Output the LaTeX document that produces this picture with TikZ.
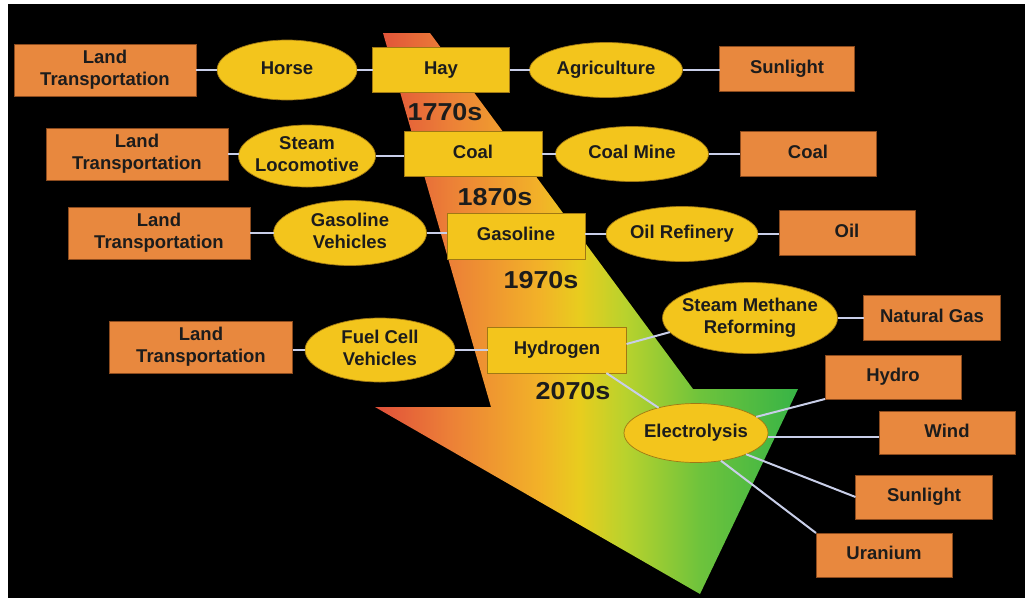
\documentclass[tikz,border=0pt]{standalone}
\usepackage{fontspec}
\setmainfont{Liberation Sans}
\newfontfamily\yearfont[FakeStretch=1.1]{Liberation Sans}
\usetikzlibrary{shapes.geometric}
\definecolor{obox}{RGB}{232,136,62}
\definecolor{oedge}{RGB}{140,75,30}
\definecolor{ybox}{RGB}{243,197,28}
\definecolor{yedge}{RGB}{160,120,20}
\definecolor{conn}{RGB}{200,206,232}
\definecolor{txt}{RGB}{28,28,28}
\definecolor{g1}{RGB}{225,80,58}
\definecolor{g2}{RGB}{236,128,55}
\definecolor{g3}{RGB}{242,178,40}
\definecolor{g4}{RGB}{232,205,30}
\definecolor{g5}{RGB}{185,210,45}
\definecolor{g6}{RGB}{110,195,60}
\definecolor{g7}{RGB}{55,180,70}
\pgfdeclarehorizontalshading{arrowshade}{100bp}{color(0bp)=(g1); color(25bp)=(g1); color(33.9bp)=(g2); color(44.5bp)=(g3); color(49.2bp)=(g4); color(54.5bp)=(g5); color(63.4bp)=(g6); color(75bp)=(g7); color(100bp)=(g7)}
\newcommand{\nt}[1]{\makebox[0pt]{\begin{tabular}{@{}c@{}}#1\end{tabular}}}
\begin{document}
\begin{tikzpicture}[x=1pt,y=-1pt,
  base/.style={inner sep=0pt, outer sep=0pt, text=txt, line width=0.7pt,
    font=\fontsize{18.5}{21.5}\selectfont\bfseries},
  obx/.style={base, rectangle, fill=obox, draw=oedge, minimum width=136, minimum height=45},
  ltx/.style={obx, minimum width=182, minimum height=52},
  ybx/.style={base, rectangle, fill=ybox, draw=yedge, minimum width=138, minimum height=45},
  ell/.style={base, ellipse, fill=ybox, draw=yedge},
  yr/.style={inner sep=0pt, text=txt, font=\fontsize{24.5}{26}\selectfont\yearfont\bfseries},
  cn/.style={draw=conn, line width=2pt}
]
\useasboundingbox (0,0) rectangle (1025,598);
\fill[white] (0,0) rectangle (1025,598);
\fill[black] (8,4) rectangle (1025,598);
% big arrow
\shade[shading=arrowshade] (383,33) -- (430,33) -- (693,389) -- (798,389) -- (700,594) -- (375,407) -- (491,407) -- cycle;

% row 1
\node[ltx] (lt1) at (105,70) {\nt{Land\\Transportation}};
\node[ell, minimum width=140, minimum height=60] (horse) at (287,70) {\nt{Horse}};
\node[ybx, minimum width=137] (hay) at (441,70) {\nt{Hay}};
\node[ell, minimum width=153, minimum height=55] (agri) at (606,70) {\nt{Agriculture}};
\node[obx, minimum width=135] (sun1) at (787,69) {\nt{Sunlight}};
% row 2
\node[ltx] (lt2) at (137,154) {\nt{Land\\Transportation}};
\node[ell, minimum width=137, minimum height=62] (loco) at (307,156) {\nt{Steam\\Locomotive}};
\node[ybx] (coal) at (473,154) {\nt{Coal}};
\node[ell, minimum width=153, minimum height=55] (mine) at (632,154) {\nt{Coal Mine}};
\node[obx] (coal2) at (808,154) {\nt{Coal}};
% row 3
\node[ltx] (lt3) at (159,233) {\nt{Land\\Transportation}};
\node[ell, minimum width=153, minimum height=65] (gveh) at (350,233) {\nt{Gasoline\\Vehicles}};
\node[ybx, minimum height=46] (gas) at (516,236) {\nt{Gasoline}};
\node[ell, minimum width=152, minimum height=55] (refin) at (682,234) {\nt{Oil Refinery}};
\node[obx] (oil) at (847,233) {\nt{Oil}};
% row 4
\node[ltx, minimum width=183] (lt4) at (201,347) {\nt{Land\\Transportation}};
\node[ell, minimum width=150, minimum height=64] (fcv) at (380,350) {\nt{Fuel Cell\\Vehicles}};
\node[ybx, minimum width=139, minimum height=46] (h2) at (557,350) {\nt{Hydrogen}};
\node[ell, minimum width=175, minimum height=71] (smr) at (750,318) {\nt{Steam Methane\\Reforming}};
\node[obx, minimum width=137] (ngas) at (932,318) {\nt{Natural Gas}};
\node[ell, minimum width=144, minimum height=59] (elec) at (696,433) {\nt{Electrolysis}};
\node[obx, minimum height=44] (hydro) at (893,377) {\nt{Hydro}};
\node[obx, minimum height=43] (wind) at (947,433) {\nt{Wind}};
\node[obx, minimum width=137, minimum height=44] (sun2) at (924,497) {\nt{Sunlight}};
\node[obx, minimum height=44] (uran) at (884,555) {\nt{Uranium}};

% years
\node[yr] (y1) at (445,112) {1770s};
\node[yr] (y2) at (495,197) {1870s};
\node[yr] (y3) at (541,280) {1970s};
\node[yr] (y4) at (573,391) {2070s};

% connectors
\draw[cn] (lt1.east) -- (horse.west);
\draw[cn] (horse.east) -- (horse.east -| hay.west);
\draw[cn] (hay.east) -- (agri.west);
\draw[cn] (agri.east) -- (agri.east -| sun1.west);
\draw[cn] (lt2.east) -- (lt2.east -| loco.west);
\draw[cn] (loco.east) -- (loco.east -| coal.west);
\draw[cn] (coal.east) -- (mine.west);
\draw[cn] (mine.east) -- (coal2.west);
\draw[cn] (lt3.east) -- (gveh.west);
\draw[cn] (gveh.east) -- (gveh.east -| gas.west);
\draw[cn] (refin.west -| gas.east) -- (refin.west);
\draw[cn] (refin.east) -- (refin.east -| oil.west);
\draw[cn] (fcv.west -| lt4.east) -- (fcv.west);
\draw[cn] (fcv.east) -- (fcv.east -| h2.west);
\draw[cn] (h2.east) ++(0,-6) coordinate (h2r) -- (smr.190);
\draw[cn] (h2.-25) -- (elec.146);
\draw[cn] (smr.east) -- (smr.east -| ngas.west);
\draw[cn] (elec.15) -- (hydro.south west);
\draw[cn] (elec.east) ++(0,4) coordinate (elr) -- (elr -| wind.west);
\draw[cn] (elec.-23) -- (sun2.west);
\draw[cn] (elec.-48) -- (uran.north west);
\end{tikzpicture}
\end{document}
